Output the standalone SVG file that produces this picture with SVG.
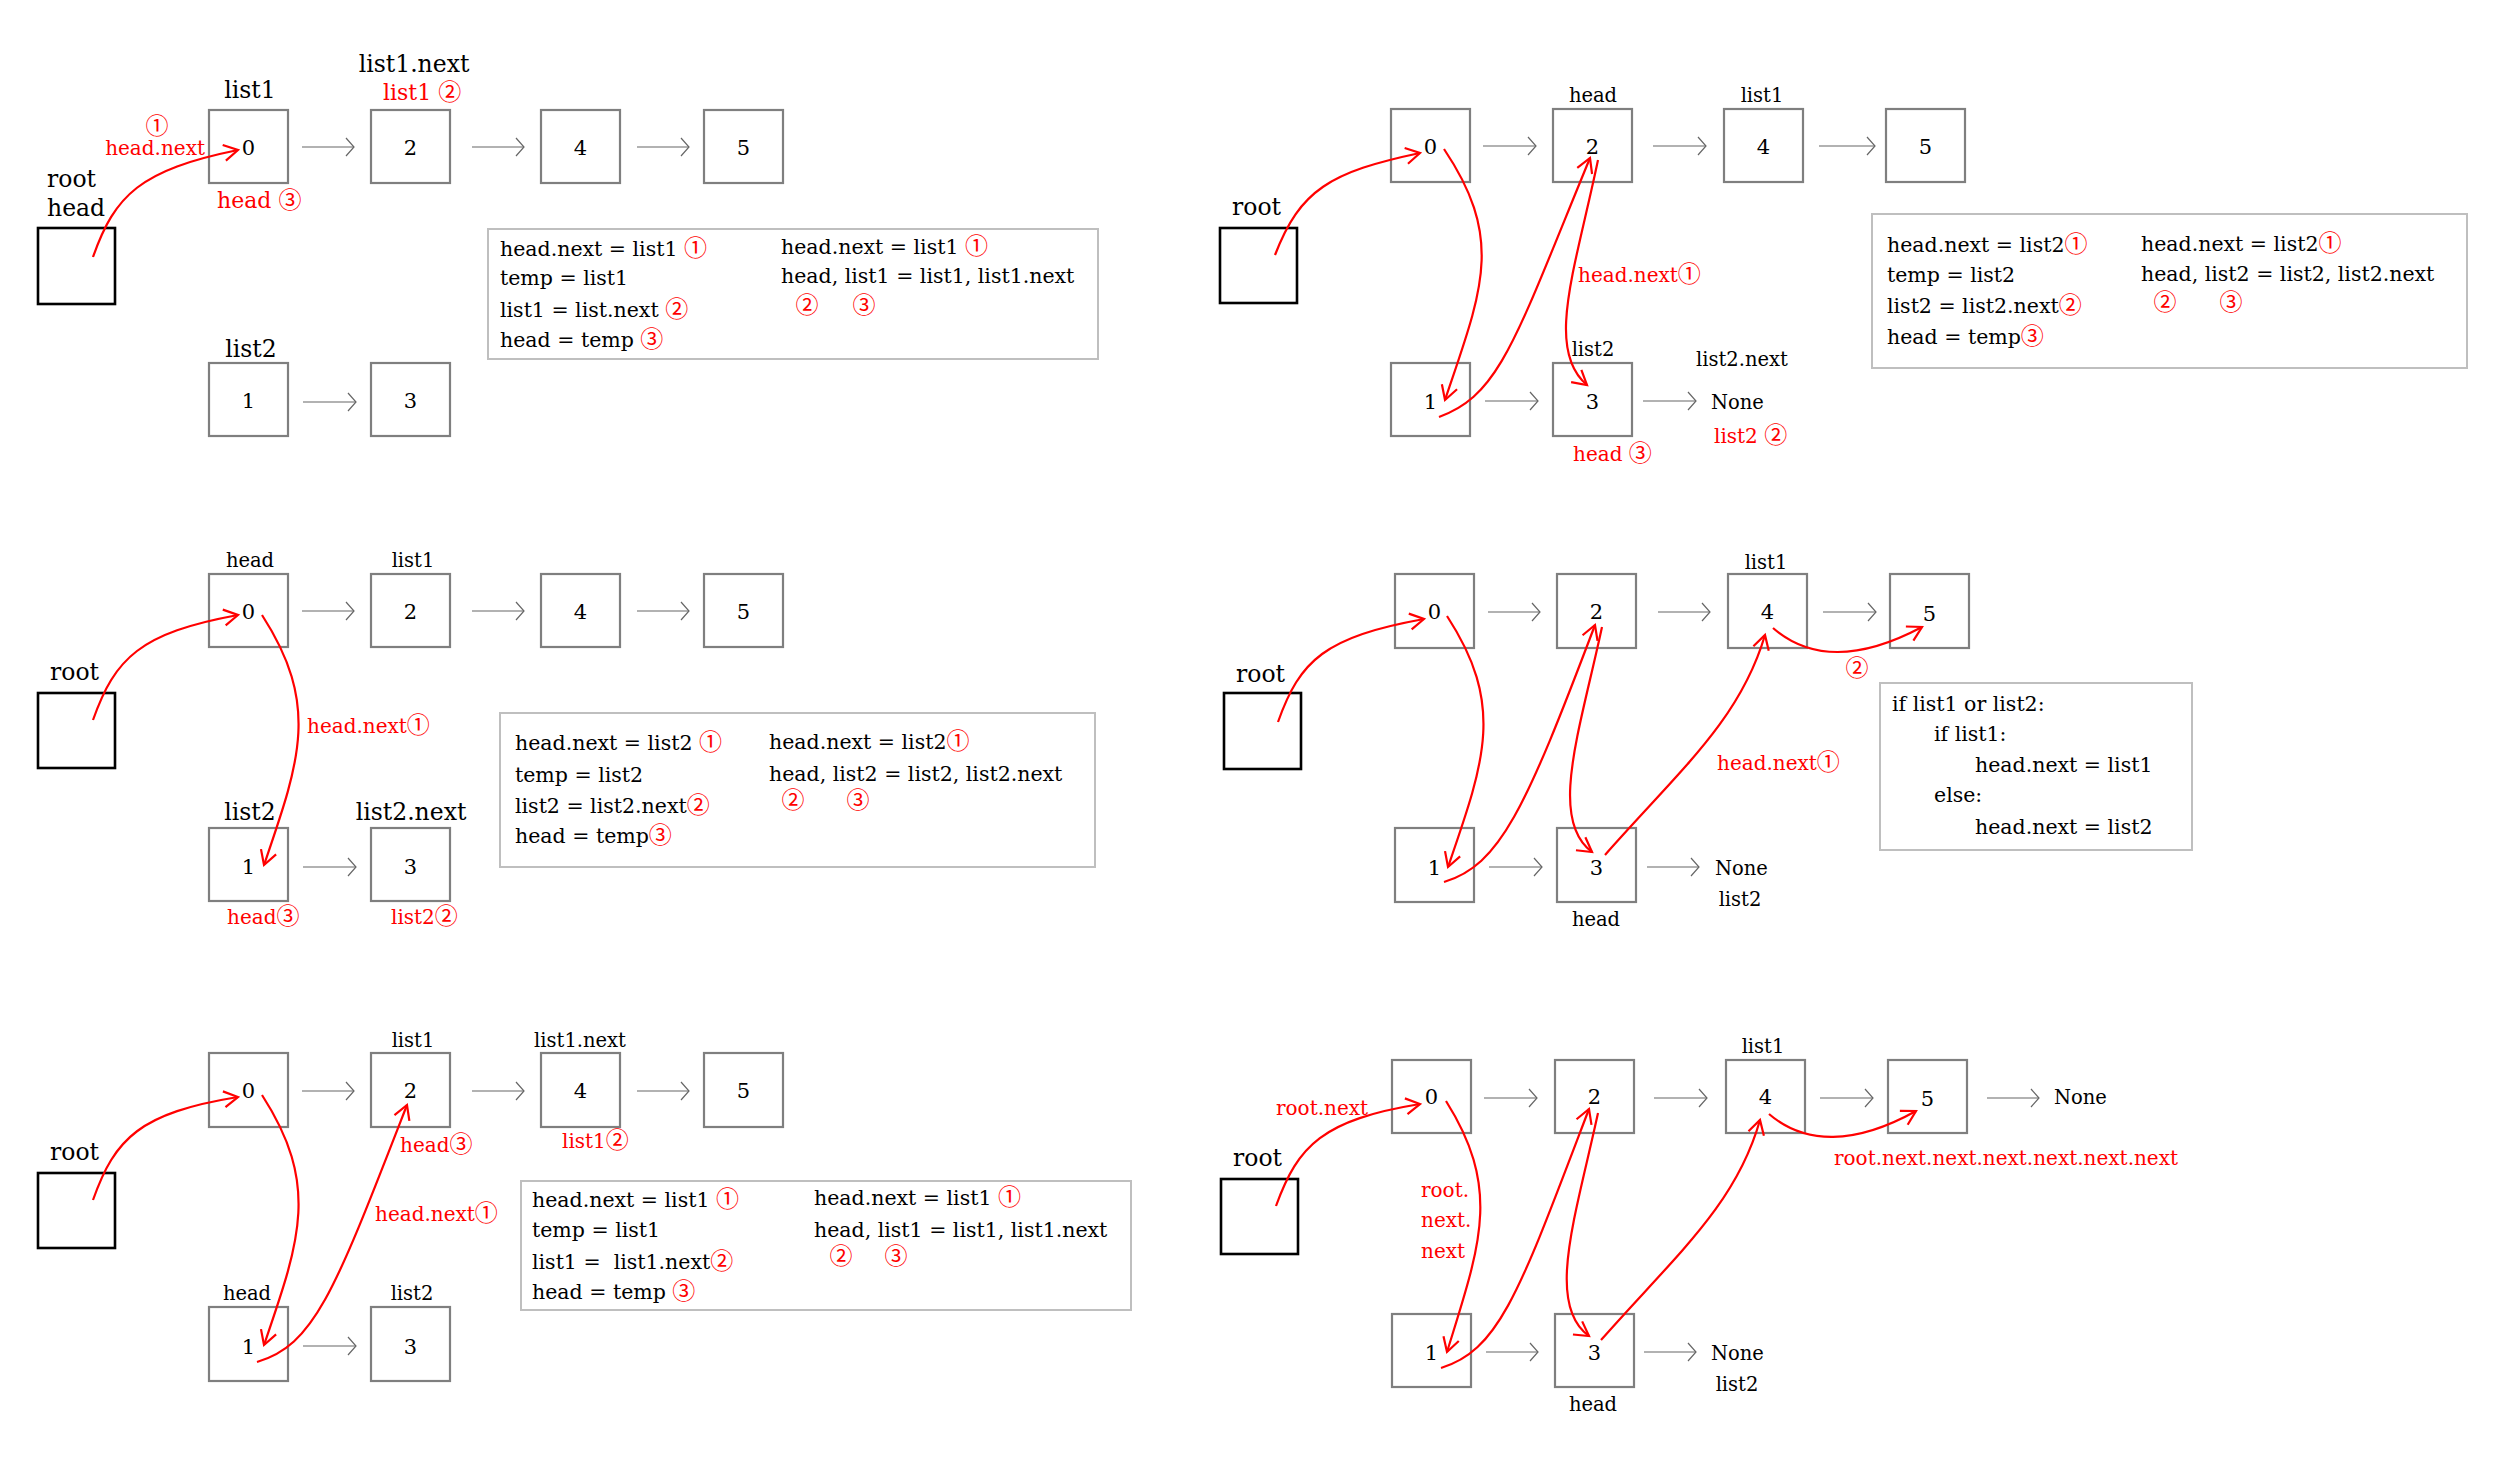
<svg xmlns="http://www.w3.org/2000/svg" width="2508" height="1460" viewBox="0 0 2508 1460">
<style>
text{font-family:"DejaVu Serif","Liberation Serif",serif;fill:#000}
.nb{fill:#fff;stroke:#7f7f7f;stroke-width:2.2}
.rb{fill:#fff;stroke:#000;stroke-width:2.6}
.cb{fill:#fff;stroke:#bfbfbf;stroke-width:2}
.ga{fill:none;stroke:#666;stroke-width:1.2;marker-end:url(#ga)}
.ra{fill:none;stroke:#f00;stroke-width:2.2;marker-end:url(#ra)}
.d{font-size:21px;text-anchor:middle}
.L{font-size:23.5px}
.s{font-size:19.5px}
.k{font-size:20.5px}
.r{fill:#f00;font-size:20px}
.r2{fill:#f00;font-size:22px}
.c{font-family:"Noto Sans CJK SC","DejaVu Sans",sans-serif;fill:#f00;font-size:23px}
.m{text-anchor:middle}
.e{text-anchor:end}
</style>
<defs>
<marker id="ga" markerUnits="userSpaceOnUse" viewBox="-10 -11 12 22" markerWidth="12" markerHeight="22" refX="0" refY="0" orient="auto" overflow="visible"><path d="M-8,-9 L0,0 L-8,9" fill="none" stroke="#666" stroke-width="1.2"/></marker>
<marker id="ra" markerUnits="userSpaceOnUse" viewBox="-16 -10 18 20" markerWidth="18" markerHeight="20" refX="0" refY="0" orient="auto" overflow="visible"><path d="M-14,-8 L0,0 L-14,8" fill="none" stroke="#f00" stroke-width="2.2"/></marker>
</defs>
<rect width="2508" height="1460" fill="#fff"/>

<!-- ===== Panel 1 ===== -->
<g id="p1-root"><rect class="rb" x="38" y="228" width="77" height="76"/></g>
<g id="p1-n0"><rect class="nb" x="209" y="110" width="79" height="73"/><text class="d" x="248.5" y="155">0</text></g>
<g id="p1-n2"><rect class="nb" x="371" y="110" width="79" height="73"/><text class="d" x="410.5" y="155">2</text></g>
<g id="p1-n4"><rect class="nb" x="541" y="110" width="79" height="73"/><text class="d" x="580.5" y="155">4</text></g>
<g id="p1-n5"><rect class="nb" x="704" y="110" width="79" height="73"/><text class="d" x="743.5" y="155">5</text></g>
<g id="p1-n1"><rect class="nb" x="209" y="363" width="79" height="73"/><text class="d" x="248.5" y="408">1</text></g>
<g id="p1-n3"><rect class="nb" x="371" y="363" width="79" height="73"/><text class="d" x="410.5" y="408">3</text></g>
<g id="p1-labels">
<text class="L" x="47" y="187">root</text>
<text class="L" x="47" y="216">head</text>
<text class="L m" x="250" y="98">list1</text>
<text class="L m" x="414" y="72">list1.next</text>
<text class="L m" x="251" y="357">list2</text>
<text class="r2" x="383" y="100">list1 <tspan class="c">②</tspan></text>
<text class="r e" x="205" y="155">head.next</text>
<text class="c m" x="157" y="134">①</text>
<text class="r2" x="217" y="208">head <tspan class="c">③</tspan></text>
</g>
<g id="p1-code">
<rect class="cb" x="488" y="229" width="610" height="130"/>
<text class="k" x="500" y="256">head.next = list1 <tspan class="c">①</tspan></text>
<text class="k" x="500" y="285">temp = list1</text>
<text class="k" x="500" y="317">list1 = list.next <tspan class="c">②</tspan></text>
<text class="k" x="500" y="347">head = temp <tspan class="c">③</tspan></text>
<text class="k" x="781" y="254">head.next = list1 <tspan class="c">①</tspan></text>
<text class="k" x="781" y="283">head, list1 = list1, list1.next</text>
<text class="c m" x="807" y="313">②</text>
<text class="c m" x="864" y="313">③</text>
</g>

<!-- ===== Panel 2 ===== -->
<g id="p2-root"><rect class="rb" x="1220" y="228" width="77" height="75"/></g>
<g id="p2-n0"><rect class="nb" x="1391" y="109" width="79" height="73"/><text class="d" x="1430.5" y="154">0</text></g>
<g id="p2-n2"><rect class="nb" x="1553" y="109" width="79" height="73"/><text class="d" x="1592.5" y="154">2</text></g>
<g id="p2-n4"><rect class="nb" x="1724" y="109" width="79" height="73"/><text class="d" x="1763.5" y="154">4</text></g>
<g id="p2-n5"><rect class="nb" x="1886" y="109" width="79" height="73"/><text class="d" x="1925.5" y="154">5</text></g>
<g id="p2-n1"><rect class="nb" x="1391" y="363" width="79" height="73"/><text class="d" x="1430.5" y="409">1</text></g>
<g id="p2-n3"><rect class="nb" x="1553" y="363" width="79" height="73"/><text class="d" x="1592.5" y="409">3</text></g>
<g id="p2-labels">
<text class="L" x="1232" y="215">root</text>
<text class="s m" x="1593" y="102">head</text>
<text class="s m" x="1762" y="102">list1</text>
<text class="s m" x="1593" y="356">list2</text>
<text class="s" x="1696" y="366">list2.next</text>
<text class="s" x="1711" y="409">None</text>
<text class="r" x="1578" y="282">head.next<tspan class="c">①</tspan></text>
<text class="r" x="1714" y="443">list2 <tspan class="c">②</tspan></text>
<text class="r" x="1573" y="461">head <tspan class="c">③</tspan></text>
</g>
<g id="p2-code">
<rect class="cb" x="1872" y="214" width="595" height="154"/>
<text class="k" x="1887" y="252">head.next = list2<tspan class="c">①</tspan></text>
<text class="k" x="1887" y="282">temp = list2</text>
<text class="k" x="1887" y="313">list2 = list2.next<tspan class="c">②</tspan></text>
<text class="k" x="1887" y="344">head = temp<tspan class="c">③</tspan></text>
<text class="k" x="2141" y="251">head.next = list2<tspan class="c">①</tspan></text>
<text class="k" x="2141" y="281">head, list2 = list2, list2.next</text>
<text class="c m" x="2165" y="310">②</text>
<text class="c m" x="2231" y="310">③</text>
</g>

<!-- ===== Panel 3 ===== -->
<g id="p3-root"><rect class="rb" x="38" y="693" width="77" height="75"/></g>
<g id="p3-n0"><rect class="nb" x="209" y="574" width="79" height="73"/><text class="d" x="248.5" y="619">0</text></g>
<g id="p3-n2"><rect class="nb" x="371" y="574" width="79" height="73"/><text class="d" x="410.5" y="619">2</text></g>
<g id="p3-n4"><rect class="nb" x="541" y="574" width="79" height="73"/><text class="d" x="580.5" y="619">4</text></g>
<g id="p3-n5"><rect class="nb" x="704" y="574" width="79" height="73"/><text class="d" x="743.5" y="619">5</text></g>
<g id="p3-n1"><rect class="nb" x="209" y="828" width="79" height="73"/><text class="d" x="248.5" y="874">1</text></g>
<g id="p3-n3"><rect class="nb" x="371" y="828" width="79" height="73"/><text class="d" x="410.5" y="874">3</text></g>
<g id="p3-labels">
<text class="L" x="50" y="680">root</text>
<text class="s m" x="250" y="567">head</text>
<text class="s m" x="413" y="567">list1</text>
<text class="L m" x="250" y="820">list2</text>
<text class="L m" x="411" y="820">list2.next</text>
<text class="r" x="307" y="733">head.next<tspan class="c">①</tspan></text>
<text class="r" x="227" y="924">head<tspan class="c">③</tspan></text>
<text class="r" x="391" y="924">list2<tspan class="c">②</tspan></text>
</g>
<g id="p3-code">
<rect class="cb" x="500" y="713" width="595" height="154"/>
<text class="k" x="515" y="750">head.next = list2 <tspan class="c">①</tspan></text>
<text class="k" x="515" y="782">temp = list2</text>
<text class="k" x="515" y="813">list2 = list2.next<tspan class="c">②</tspan></text>
<text class="k" x="515" y="843">head = temp<tspan class="c">③</tspan></text>
<text class="k" x="769" y="749">head.next = list2<tspan class="c">①</tspan></text>
<text class="k" x="769" y="781">head, list2 = list2, list2.next</text>
<text class="c m" x="793" y="808">②</text>
<text class="c m" x="858" y="808">③</text>
</g>

<!-- ===== Panel 4 ===== -->
<g id="p4-root"><rect class="rb" x="1224" y="693" width="77" height="76"/></g>
<g id="p4-n0"><rect class="nb" x="1395" y="574" width="79" height="74"/><text class="d" x="1434.5" y="619">0</text></g>
<g id="p4-n2"><rect class="nb" x="1557" y="574" width="79" height="74"/><text class="d" x="1596.5" y="619">2</text></g>
<g id="p4-n4"><rect class="nb" x="1728" y="574" width="79" height="74"/><text class="d" x="1767.5" y="619">4</text></g>
<g id="p4-n5"><rect class="nb" x="1890" y="574" width="79" height="74"/><text class="d" x="1929.5" y="621">5</text></g>
<g id="p4-n1"><rect class="nb" x="1395" y="828" width="79" height="74"/><text class="d" x="1434.5" y="875">1</text></g>
<g id="p4-n3"><rect class="nb" x="1557" y="828" width="79" height="74"/><text class="d" x="1596.5" y="875">3</text></g>
<g id="p4-labels">
<text class="L" x="1236" y="682">root</text>
<text class="s m" x="1766" y="569">list1</text>
<text class="s" x="1715" y="875">None</text>
<text class="s m" x="1740" y="906">list2</text>
<text class="s m" x="1596" y="926">head</text>
<text class="r" x="1717" y="770">head.next<tspan class="c">①</tspan></text>
<text class="c m" x="1857" y="676">②</text>
</g>
<g id="p4-code">
<rect class="cb" x="1880" y="683" width="312" height="167"/>
<text class="k" x="1892" y="711">if list1 or list2:</text>
<text class="k" x="1934" y="741">if list1:</text>
<text class="k" x="1975" y="772">head.next = list1</text>
<text class="k" x="1934" y="802">else:</text>
<text class="k" x="1975" y="834">head.next = list2</text>
</g>

<!-- ===== Panel 5 ===== -->
<g id="p5-root"><rect class="rb" x="38" y="1173" width="77" height="75"/></g>
<g id="p5-n0"><rect class="nb" x="209" y="1053" width="79" height="74"/><text class="d" x="248.5" y="1098">0</text></g>
<g id="p5-n2"><rect class="nb" x="371" y="1053" width="79" height="74"/><text class="d" x="410.5" y="1098">2</text></g>
<g id="p5-n4"><rect class="nb" x="541" y="1053" width="79" height="74"/><text class="d" x="580.5" y="1098">4</text></g>
<g id="p5-n5"><rect class="nb" x="704" y="1053" width="79" height="74"/><text class="d" x="743.5" y="1098">5</text></g>
<g id="p5-n1"><rect class="nb" x="209" y="1307" width="79" height="74"/><text class="d" x="248.5" y="1354">1</text></g>
<g id="p5-n3"><rect class="nb" x="371" y="1307" width="79" height="74"/><text class="d" x="410.5" y="1354">3</text></g>
<g id="p5-labels">
<text class="L" x="50" y="1160">root</text>
<text class="s m" x="413" y="1047">list1</text>
<text class="s m" x="580" y="1047">list1.next</text>
<text class="s m" x="247" y="1300">head</text>
<text class="s m" x="412" y="1300">list2</text>
<text class="r" x="400" y="1152">head<tspan class="c">③</tspan></text>
<text class="r" x="562" y="1148">list1<tspan class="c">②</tspan></text>
<text class="r" x="375" y="1221">head.next<tspan class="c">①</tspan></text>
</g>
<g id="p5-code">
<rect class="cb" x="521" y="1181" width="610" height="129"/>
<text class="k" x="532" y="1207">head.next = list1 <tspan class="c">①</tspan></text>
<text class="k" x="532" y="1237">temp = list1</text>
<text class="k" x="532" y="1269" xml:space="preserve">list1 =  list1.next<tspan class="c">②</tspan></text>
<text class="k" x="532" y="1299">head = temp <tspan class="c">③</tspan></text>
<text class="k" x="814" y="1205">head.next = list1 <tspan class="c">①</tspan></text>
<text class="k" x="814" y="1237">head, list1 = list1, list1.next</text>
<text class="c m" x="841" y="1264">②</text>
<text class="c m" x="896" y="1264">③</text>
</g>

<!-- ===== Panel 6 ===== -->
<g id="p6-root"><rect class="rb" x="1221" y="1179" width="77" height="75"/></g>
<g id="p6-n0"><rect class="nb" x="1392" y="1060" width="79" height="73"/><text class="d" x="1431.5" y="1104">0</text></g>
<g id="p6-n2"><rect class="nb" x="1555" y="1060" width="79" height="73"/><text class="d" x="1594.5" y="1104">2</text></g>
<g id="p6-n4"><rect class="nb" x="1726" y="1060" width="79" height="73"/><text class="d" x="1765.5" y="1104">4</text></g>
<g id="p6-n5"><rect class="nb" x="1888" y="1060" width="79" height="73"/><text class="d" x="1927.5" y="1106">5</text></g>
<g id="p6-n1"><rect class="nb" x="1392" y="1314" width="79" height="73"/><text class="d" x="1431.5" y="1360">1</text></g>
<g id="p6-n3"><rect class="nb" x="1555" y="1314" width="79" height="73"/><text class="d" x="1594.5" y="1360">3</text></g>
<g id="p6-labels">
<text class="L" x="1233" y="1166">root</text>
<text class="s m" x="1763" y="1053">list1</text>
<text class="s" x="2054" y="1104">None</text>
<text class="s" x="1711" y="1360">None</text>
<text class="s m" x="1737" y="1391">list2</text>
<text class="s m" x="1593" y="1411">head</text>
<text class="r" x="1276" y="1115">root.next</text>
<text class="r" x="1421" y="1197">root.</text>
<text class="r" x="1421" y="1227">next.</text>
<text class="r" x="1421" y="1258">next</text>
<text class="r" x="1834" y="1165">root.next.next.next.next.next.next</text>
</g>

<!-- ===== Connectors ===== -->
<g id="connectors">
<g id="p1-links">
<path class="ga" d="M302,147 H354"/><path class="ga" d="M472,147 H524"/><path class="ga" d="M637,147 H689"/>
<path class="ga" d="M303,402 H356"/>
<path class="ra" d="M93,257 C115,195 140,170 238,150"/>
</g>
<g id="p2-links">
<path class="ga" d="M1483,146 H1536"/><path class="ga" d="M1653,146 H1706"/><path class="ga" d="M1819,146 H1875"/>
<path class="ga" d="M1485,401 H1538"/><path class="ga" d="M1643,401 H1696"/>
<path class="ra" d="M1275,255 C1300,190 1330,172 1420,153"/>
<path class="ra" d="M1444,149 C1505,240 1482,290 1445,400"/>
<path class="ra" d="M1439,417 C1500,395 1515,340 1590,158"/>
<path class="ra" d="M1598,160 C1575,270 1545,350 1587,385"/>
</g>
<g id="p3-links">
<path class="ga" d="M302,611 H354"/><path class="ga" d="M472,611 H524"/><path class="ga" d="M637,611 H689"/>
<path class="ga" d="M303,867 H356"/>
<path class="ra" d="M93,720 C115,658 140,633 238,615"/>
<path class="ra" d="M262,615 C320,705 300,760 264,865"/>
</g>
<g id="p4-links">
<path class="ga" d="M1488,612 H1540"/><path class="ga" d="M1658,612 H1710"/><path class="ga" d="M1823,612 H1876"/>
<path class="ga" d="M1489,867 H1542"/><path class="ga" d="M1647,867 H1699"/>
<path class="ra" d="M1278,722 C1300,660 1325,637 1424,619"/>
<path class="ra" d="M1447,616 C1505,705 1485,760 1448,867"/>
<path class="ra" d="M1444,882 C1500,865 1525,810 1595,625"/>
<path class="ra" d="M1602,627 C1580,730 1548,820 1592,852"/>
<path class="ra" d="M1605,855 C1680,770 1740,720 1765,635"/>
<path class="ra" d="M1773,628 C1810,660 1860,660 1922,627"/>
</g>
<g id="p5-links">
<path class="ga" d="M302,1091 H354"/><path class="ga" d="M472,1091 H524"/><path class="ga" d="M637,1091 H689"/>
<path class="ga" d="M303,1346 H356"/>
<path class="ra" d="M93,1200 C115,1138 140,1113 238,1097"/>
<path class="ra" d="M262,1095 C320,1185 300,1240 264,1345"/>
<path class="ra" d="M257,1362 C315,1345 335,1290 407,1105"/>
</g>
<g id="p6-links">
<path class="ga" d="M1484,1098 H1537"/><path class="ga" d="M1654,1098 H1707"/><path class="ga" d="M1820,1098 H1873"/><path class="ga" d="M1987,1098 H2039"/>
<path class="ga" d="M1486,1352 H1538"/><path class="ga" d="M1644,1352 H1696"/>
<path class="ra" d="M1276,1206 C1298,1145 1323,1120 1420,1104"/>
<path class="ra" d="M1446,1101 C1502,1190 1480,1245 1447,1352"/>
<path class="ra" d="M1441,1368 C1500,1350 1520,1290 1589,1109"/>
<path class="ra" d="M1598,1113 C1576,1215 1545,1305 1589,1336"/>
<path class="ra" d="M1601,1340 C1676,1255 1736,1205 1760,1120"/>
<path class="ra" d="M1769,1114 C1805,1145 1855,1145 1916,1111"/>
</g>
</g>
</svg>
